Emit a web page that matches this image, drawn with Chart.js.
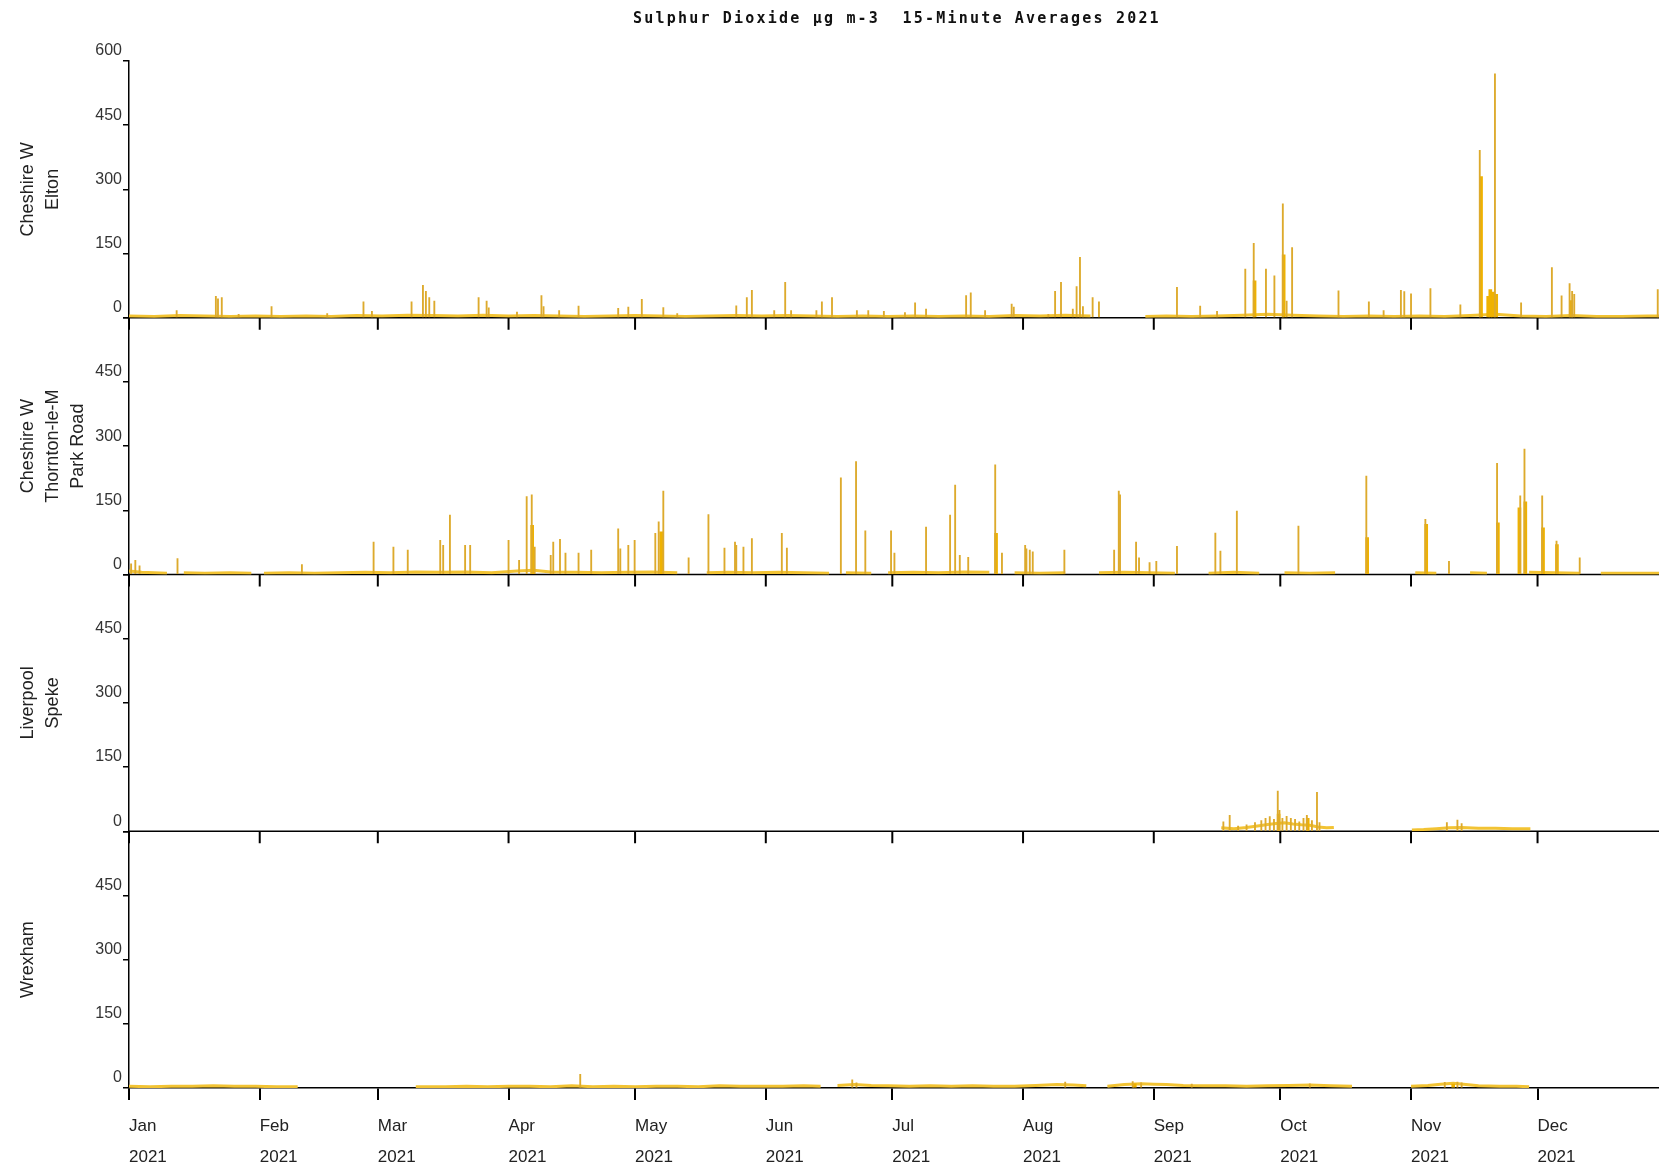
<!DOCTYPE html>
<html><head><meta charset="utf-8">
<script src="https://cdn.jsdelivr.net/npm/chart.js@4.4.1/dist/chart.umd.min.js"></script>
<style>
html,body{margin:0;padding:0;background:#fff;}
#wrap{position:relative;width:1659px;height:1168px;overflow:hidden;}
#title{position:absolute;left:633px;top:9px;line-height:18px;font:bold 15px "DejaVu Sans Mono",monospace;letter-spacing:2.2px;color:#111;white-space:pre;}
canvas{position:absolute;left:0;top:0;}
</style></head><body>
<div id="wrap"><canvas id="c" width="1659" height="1168"></canvas><div id="title">Sulphur Dioxide µg m-3  15-Minute Averages 2021</div></div>
<script>
// ---- axis data ----
const monthStartDays = [0,31,59,90,120,151,181,212,243,273,304,334];
const monthLabels = ['Jan','Feb','Mar','Apr','May','Jun','Jul','Aug','Sep','Oct','Nov','Dec'];
const yearLabel = '2021';
const yTickValues = [0,150,300,450,600];
const siteTitles = [['Cheshire W','Elton'],['Cheshire W','Thornton-le-M','Park Road'],['Liverpool','Speke'],['Wrexham']];

// ---- Elton (day of year, µg m-3) ----
const eltonSpikes = [[11.3,17],[20.6,50],[21.1,44],[22.0,47],[26,8],[33.8,26],[47,10],[55.6,37],[57.6,15],[67,37],[69.7,76],[70.4,62],[71.2,47],[72.4,39],[82.9,47],[84.8,39],[85.3,23],[92,13],[97.8,52],[98.3,26],[102,17],[106.6,27],[116,22],[118.4,25],[121.6,43],[126.7,24],[130,10],[144,28],[146.5,47],[147.7,64],[153,17],[155.6,83],[157,17],[163,17],[164.3,37],[166.7,47],[172.6,17],[175.3,17],[179,15],[184,12],[186.4,35],[189,20],[198.5,52],[199.6,58],[203,17],[209.3,32],[209.8,25],[218,8],[219.6,62],[221,83],[223.8,20],[224.7,73],[225.5,141],[226.2,26],[228.5,47],[230,37],[248.5,71],[254,27],[258,15],[264.7,114],[266.7,174],[269.6,114],[271.6,98],[273.6,266],[274.5,39],[275.8,164],[286.8,63],[294,37],[297.5,17],[301.6,64],[302.4,61],[304,56],[308.6,68],[315.7,30],[320.3,391],[323.9,570],[330.1,35],[337.4,117],[339.7,51],[341.6,80],[342.2,62],[342.7,55],[362.5,66]];
const eltonCores = [[266.9,86],[273.8,147],[320.6,330],[322.3,50],[322.8,66],[323.4,60],[324.2,55],[342,40]];
const eltonBase = [[0,4],[6,3],[12,5],[18,4],[24,3],[30,4],[36,3],[42,4],[48,3],[54,5],[60,4],[66,6],[72,5],[78,4],[84,6],[90,4],[96,5],[102,4],[108,3],[114,4],[120,5],[126,4],[132,3],[138,4],[144,5],[150,4],[156,5],[162,4],[168,3],[174,4],[180,3],[186,4],[192,3],[198,4],[204,3],[210,5],[216,4],[222,6],[228,4],[231,null],[241,3],[246,4],[252,3],[258,4],[264,6],[270,8],[276,6],[282,4],[288,3],[294,4],[300,3],[306,4],[312,3],[318,5],[324,8],[330,4],[336,3],[342,5],[348,3],[354,3],[360,4],[362.8,4]];

// ---- Thornton-le-Moors Park Road ----
const thorntonSpikes = [[0.5,25],[1.5,33],[2.5,20],[11.5,37],[41,23],[58,76],[62.7,64],[66.1,57],[73.8,80],[74.5,68],[76.1,139],[79.7,68],[80.9,68],[90,80],[92.5,33],[94.3,182],[95.5,186],[96.2,64],[100,45],[100.6,76],[102.2,82],[103.5,50],[106.6,50],[109.6,57],[116,107],[116.5,60],[118.4,68],[119.9,80],[124.8,96],[125.6,123],[126.7,195],[132.7,39],[137.4,140],[141.2,62],[143.7,76],[144,68],[145.7,64],[147.7,84],[154.8,96],[156,62],[168.8,226],[172.4,264],[174.6,102],[180.7,102],[181.5,50],[189,111],[194.7,139],[195.9,209],[197,45],[199,40],[205.4,256],[207,50],[212.5,68],[212.8,60],[213.6,57],[214.3,53],[221.8,57],[233.6,57],[234.7,195],[235.0,186],[238.8,76],[239.5,39],[242,28],[243.6,31],[248.5,66],[257.6,97],[258.8,55],[262.7,148],[277.3,113],[293.4,230],[307.4,129],[313,31],[324.4,260],[329.9,184],[330.9,293],[335.1,184],[338.5,78],[344,39]];
const thorntonCores = [[95.6,115],[126.2,100],[205.6,96],[293.6,86],[307.6,117],[324.6,121],[329.7,156],[331.1,170],[335.3,109],[338.6,70]];
const thorntonBase = [[0,8],[3,5],[6,4],[9,3],[10,null],[13,4],[18,3],[24,4],[29,3],[30,null],[32,3],[38,4],[44,3],[50,4],[56,5],[62,4],[68,6],[74,5],[80,6],[86,4],[92,8],[96,10],[100,6],[106,5],[112,4],[118,5],[124,6],[130,4],[135,null],[137,4],[142,5],[148,4],[154,5],[160,4],[166,3],[167,null],[170,4],[176,3],[177,null],[180,4],[186,5],[192,4],[198,6],[204,5],[207,null],[210,4],[216,3],[222,4],[227,null],[230,4],[236,5],[242,4],[248,3],[249,null],[256,3],[262,5],[268,3],[270,null],[274,4],[280,3],[286,4],[289,null],[291,3],[296,null],[299,3],[302,null],[305,4],[310,3],[315,null],[318,4],[322,3],[327,null],[332,5],[338,4],[344,3],[346,null],[349,3],[355,3],[362.8,3]];

// ---- Liverpool Speke ----
const spekeSpikes = [[259.5,22],[261,37],[263,12],[265,15],[267,20],[268.5,25],[269.5,30],[270.5,34],[271.5,28],[272.4,94],[272.8,49],[273.5,30],[274.5,35],[275.5,30],[276.5,28],[277.5,22],[278.5,30],[279.3,37],[280.5,25],[281.7,91],[282.3,20],[312.5,20],[315,26],[316,18]];
const spekeCores = [[272.6,40],[279.5,30]];
const spekeBase = [[259,8],[262,6],[265,9],[268,13],[270,16],[272,18],[274,20],[276,17],[278,15],[280,14],[282,10],[284,8],[285.7,9],[295,null],[304.2,3],[307,4],[310,6],[313,8],[316,9],[320,7],[324,7],[328,6],[332.3,6]];

// ---- Wrexham ----
const wrexhamSpikes = [[107,32],[171.5,19],[172.5,12],[222,14],[238,15],[240,12],[252,9],[280,10],[312,13],[315,14],[316,12]];
const wrexhamCores = [[238.5,10],[314,9]];
const wrexhamBase = [[0,4],[5,3],[10,4],[15,4],[20,5],[25,4],[30,4],[35,3],[40,3],[54,null],[68,3],[75,3],[80,4],[85,3],[90,4],[95,4],[100,3],[105,5],[110,3],[115,4],[120,3],[125,4],[130,4],[135,3],[140,5],[145,4],[150,4],[155,4],[160,5],[164,4],[166,null],[168,6],[172,8],[176,6],[180,5],[185,4],[190,5],[195,4],[200,5],[205,4],[210,4],[215,6],[220,8],[224,7],[227,5],[230,null],[232,4],[236,8],[240,10],[243,9],[246,8],[250,6],[255,5],[260,5],[265,4],[270,5],[275,6],[280,7],[285,5],[290,4],[297,null],[304,4],[308,6],[311,9],[314,11],[317,8],[320,5],[325,4],[329,4],[332,3]];

const NEEDLE = '#DDAA2C', CORE = '#EFB200', BASE = '#F2C333';
const FONT = '"Liberation Sans", Arial, sans-serif';
const toXY = arr => arr.map(p => ({x: p[0], y: p[1]}));

const panels = [
  {id: 'y1', spikes: eltonSpikes, cores: eltonCores, base: eltonBase},
  {id: 'y2', spikes: thorntonSpikes, cores: thorntonCores, base: thorntonBase},
  {id: 'y3', spikes: spekeSpikes, cores: spekeCores, base: spekeBase},
  {id: 'y4', spikes: wrexhamSpikes, cores: wrexhamCores, base: wrexhamBase}
];

const datasets = [];
panels.forEach(p => {
  datasets.push({type: 'line', data: toXY(p.base), yAxisID: p.id, xAxisID: 'x', borderColor: BASE, borderWidth: 3, pointRadius: 0, spanGaps: false, tension: 0, order: 3});
  datasets.push({type: 'bar', data: toXY(p.cores), yAxisID: p.id, xAxisID: 'x', backgroundColor: CORE, barThickness: 3, grouped: false, order: 2});
  datasets.push({type: 'bar', data: toXY(p.spikes), yAxisID: p.id, xAxisID: 'x', backgroundColor: NEEDLE, barThickness: 1.2, grouped: false, order: 1});
});

function yScale(idx, weight) {
  return {
    type: 'linear', position: 'left', stack: 'panels', stackWeight: 1, weight: weight,
    min: 0, max: 600,
    afterBuildTicks: s => { s.ticks = yTickValues.map(v => ({value: v})); },
    afterFit: s => { s.width = 129; },
    grid: {drawOnChartArea: false, drawTicks: true, tickLength: 6, color: '#000', lineWidth: 1.5, offset: false},
    border: {display: true, color: '#000', width: 1.5},
    ticks: {padding: 1, labelOffset: -10, color: '#333', font: {family: FONT, size: 16},
      callback: v => (v === 600 && idx !== 0) ? '' : String(v)},
    title: {display: true, text: siteTitles[idx], color: '#222',
      font: {family: FONT, size: 18, lineHeight: 25 / 18}, padding: {top: 15.5, bottom: 0}}
  };
}

const panelAxes = {
  id: 'panelAxes',
  beforeDatasetsDraw(chart) {
    const {ctx, chartArea, scales} = chart;
    const xs = scales.x;
    ['y1', 'y2', 'y3'].forEach(id => {
      const y0 = scales[id].getPixelForValue(0);
      ctx.save();
      ctx.strokeStyle = '#000';
      ctx.lineWidth = 1.5;
      ctx.beginPath(); ctx.moveTo(chartArea.left, y0); ctx.lineTo(chartArea.right, y0); ctx.stroke();
      ctx.lineWidth = 2;
      monthStartDays.forEach(d => {
        const px = xs.getPixelForValue(d);
        ctx.beginPath(); ctx.moveTo(px, y0); ctx.lineTo(px, y0 + 12); ctx.stroke();
      });
      ctx.restore();
    });
  }
};

new Chart(document.getElementById('c'), {
  type: 'line',
  data: {datasets},
  plugins: [panelAxes],
  options: {
    responsive: false, animation: false, devicePixelRatio: 1,
    layout: {padding: {top: 61, left: 0, right: 0, bottom: 0}},
    plugins: {legend: {display: false}, tooltip: {enabled: false}, title: {display: false}},
    scales: {
      y4: yScale(3, 1),
      y3: yScale(2, 2),
      y2: yScale(1, 3),
      y1: yScale(0, 4),
      x: {
        type: 'linear', position: 'bottom', min: 0, max: 362.8, offset: false,
        afterBuildTicks: s => { s.ticks = monthStartDays.map(v => ({value: v})); },
        afterFit: s => { s.height = 80; },
        grid: {drawOnChartArea: false, drawTicks: true, tickLength: 12, color: '#000', lineWidth: 2, offset: false},
        border: {display: true, color: '#000', width: 1.5},
        ticks: {autoSkip: false, maxRotation: 0, minRotation: 0, align: 'start', padding: 11, color: '#222',
          font: {family: FONT, size: 17, lineHeight: 1.82},
          callback: (v, i) => [monthLabels[i], yearLabel]}
      }
    }
  }
});
</script>
</body></html>
